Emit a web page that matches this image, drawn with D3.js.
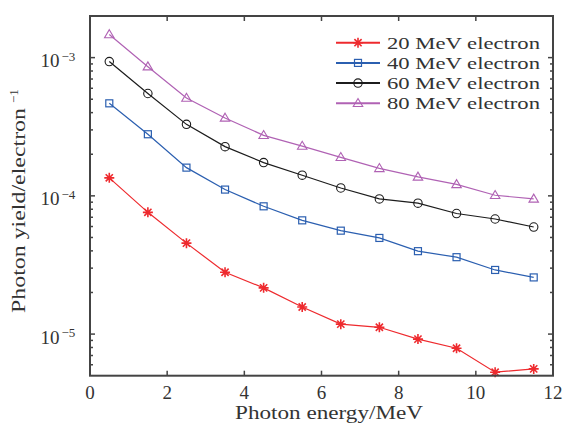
<!DOCTYPE html>
<html>
<head>
<meta charset="utf-8">
<script src="https://cdn.jsdelivr.net/npm/d3@7"></script>
<style>
  html, body { margin: 0; padding: 0; background: #fff; }
  svg { display: block; }
  text { font-family: "Liberation Serif", "DejaVu Serif", serif; fill: #333; }
</style>
</head>
<body>
<svg id="chart" width="569" height="427"></svg>
<script>
// ---- data ----
const energies = [0.5, 1.5, 2.5, 3.5, 4.5, 5.5, 6.5, 7.5, 8.5, 9.5, 10.5, 11.5];
const seriesNames = ["20 MeV electron", "40 MeV electron", "60 MeV electron", "80 MeV electron"];
const yield20 = [1.35e-4, 7.6e-5, 4.55e-5, 2.8e-5, 2.16e-5, 1.57e-5, 1.18e-5, 1.12e-5, 9.2e-6, 7.9e-6, 5.3e-6, 5.6e-6];
const yield40 = [4.67e-4, 2.79e-4, 1.60e-4, 1.11e-4, 8.4e-5, 6.65e-5, 5.6e-5, 4.96e-5, 3.98e-5, 3.6e-5, 2.91e-5, 2.57e-5];
const yield60 = [9.36e-4, 5.5e-4, 3.29e-4, 2.27e-4, 1.74e-4, 1.41e-4, 1.14e-4, 9.5e-5, 8.85e-5, 7.45e-5, 6.8e-5, 5.95e-5];
const yield80 = [1.47e-3, 8.6e-4, 5.1e-4, 3.66e-4, 2.74e-4, 2.29e-4, 1.90e-4, 1.58e-4, 1.37e-4, 1.21e-4, 1.01e-4, 9.5e-5];
const xTicks = [0, 2, 4, 6, 8, 10, 12];
const yTickExps = [-5, -4, -3];
const xDomain = [0, 12];
const yDomain = [5e-6, 2e-3];

// ---- layout ----
const svg = d3.select("#chart");
const L = 90, R = 553, T = 16, B = 375.7;
const x = d3.scaleLinear().domain(xDomain).range([L, R]);
const y = d3.scaleLog().domain(yDomain).range([B, T]);
const axisColor = "#444";

const series = [
  { name: seriesNames[0], values: yield20, color: "#ee2a2e", marker: "star" },
  { name: seriesNames[1], values: yield40, color: "#2b5fb0", marker: "square" },
  { name: seriesNames[2], values: yield60, color: "#1c1c1c", marker: "circle" },
  { name: seriesNames[3], values: yield80, color: "#b062b4", marker: "triangle" }
];

function drawMarker(g, type, cx, cy, color) {
  if (type === "star") {
    const a = 5, d = 3.6;
    const p = `M${cx - a},${cy}L${cx + a},${cy}M${cx},${cy - a}L${cx},${cy + a}` +
              `M${cx - d},${cy - d}L${cx + d},${cy + d}M${cx - d},${cy + d}L${cx + d},${cy - d}`;
    g.append("path").attr("d", p).attr("stroke", color).attr("stroke-width", 1.6).attr("fill", "none");
  } else if (type === "square") {
    g.append("rect").attr("x", cx - 3.5).attr("y", cy - 3.5).attr("width", 7).attr("height", 7)
      .attr("fill", "none").attr("stroke", color).attr("stroke-width", 1.2);
  } else if (type === "circle") {
    g.append("circle").attr("cx", cx).attr("cy", cy).attr("r", 4.2)
      .attr("fill", "none").attr("stroke", color).attr("stroke-width", 1.1);
  } else if (type === "triangle") {
    const h = 8, w = 9.5;
    const p = `M${cx},${cy - h * 0.6}L${cx + w / 2},${cy + h * 0.4}L${cx - w / 2},${cy + h * 0.4}Z`;
    g.append("path").attr("d", p).attr("fill", "none").attr("stroke", color).attr("stroke-width", 1.1);
  }
}

// ---- series ----
const line = d3.line().x((d, i) => x(energies[i])).y(d => y(d));
const plotG = svg.append("g");
series.forEach(s => {
  plotG.append("path").datum(s.values).attr("d", line)
    .attr("fill", "none").attr("stroke", s.color).attr("stroke-width", 1.2);
  s.values.forEach((v, i) => drawMarker(plotG, s.marker, x(energies[i]), y(v), s.color));
});

// ---- frame and ticks ----
const axG = svg.append("g");
axG.append("rect").attr("x", L).attr("y", T).attr("width", R - L).attr("height", B - T)
  .attr("fill", "none").attr("stroke", axisColor).attr("stroke-width", 2);

// x ticks (bottom and top, inward)
xTicks.forEach(t => {
  const px = x(t);
  if (t > xDomain[0] && t < xDomain[1]) {
    axG.append("line").attr("x1", px).attr("x2", px).attr("y1", B).attr("y2", B - 5)
      .attr("stroke", axisColor).attr("stroke-width", 1.5);
    axG.append("line").attr("x1", px).attr("x2", px).attr("y1", T).attr("y2", T + 5)
      .attr("stroke", axisColor).attr("stroke-width", 1.5);
  }
  axG.append("text").attr("x", px).attr("y", 398.5).attr("text-anchor", "middle")
    .attr("font-size", 19).text(t);
});

// y ticks: major + minor (left and right, inward)
const minorVals = [];
for (let e = -6; e <= -3; e++) {
  for (let m = 1; m <= 9; m++) {
    const v = m * Math.pow(10, e);
    if (v >= yDomain[0] && v <= yDomain[1]) minorVals.push({ v, major: m === 1 });
  }
}
minorVals.forEach(d => {
  const py = y(d.v);
  if (py <= T + 0.5 || py >= B - 0.5) return;
  const len = d.major ? 5 : 3;
  axG.append("line").attr("x1", L).attr("x2", L + len).attr("y1", py).attr("y2", py)
    .attr("stroke", axisColor).attr("stroke-width", 1.5);
  axG.append("line").attr("x1", R).attr("x2", R - len).attr("y1", py).attr("y2", py)
    .attr("stroke", axisColor).attr("stroke-width", 1.5);
});

yTickExps.forEach(e => {
  const py = y(Math.pow(10, e));
  const t = axG.append("text").attr("x", 59.5).attr("y", py + 9.5).attr("text-anchor", "end")
    .attr("font-size", 19).text("10");
  axG.append("text").attr("x", 61.5).attr("y", py + 3).attr("text-anchor", "start")
    .attr("font-size", 13).text("\u2212" + (-e));
});

// ---- axis labels ----
svg.append("text").attr("x", 235).attr("y", 419).attr("font-size", 19)
  .attr("textLength", 188).attr("lengthAdjust", "spacingAndGlyphs")
  .text("Photon energy/MeV");

const yl = svg.append("g").attr("transform", "translate(25,313) rotate(-90)");
yl.append("text").attr("x", 0).attr("y", 0).attr("font-size", 18.5)
  .attr("textLength", 205).attr("lengthAdjust", "spacingAndGlyphs")
  .text("Photon yield/electron");
yl.append("text").attr("x", 210).attr("y", -7).attr("font-size", 13)
  .text("\u22121");

// ---- legend ----
const legG = svg.append("g");
series.forEach((s, i) => {
  const ly = 42.7 + i * 20.2;
  legG.append("line").attr("x1", 336).attr("x2", 380).attr("y1", ly).attr("y2", ly)
    .attr("stroke", s.color).attr("stroke-width", 2);
  drawMarker(legG, s.marker, 358, ly, s.color);
  legG.append("text").attr("x", 387).attr("y", ly + 5.8).attr("font-size", 17.5)
    .attr("textLength", 153).attr("lengthAdjust", "spacingAndGlyphs")
    .text(s.name);
});
</script>
</body>
</html>
